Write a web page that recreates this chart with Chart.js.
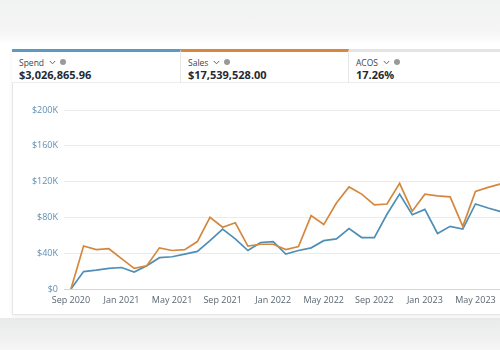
<!DOCTYPE html>
<html>
<head>
<meta charset="utf-8">
<script src="https://cdn.jsdelivr.net/npm/chart.js@4.4.1/dist/chart.umd.min.js"></script>
<style>
  html, body { margin: 0; padding: 0; width: 500px; height: 350px; overflow: hidden; background: #ffffff; font-family: "Open Sans", "Noto Sans", sans-serif; }
  #topband { position: absolute; left: 0; top: 0; width: 500px; height: 44px; background: linear-gradient(#f1f2f2, #f5f5f5 70%, #ffffff); }
  #botband { position: absolute; left: 0; top: 318px; width: 500px; height: 32px; background: linear-gradient(#e9eaea, #f0f0f0 60%, #f6f6f6); }
  #card { position: absolute; left: 12px; top: 49px; width: 620px; height: 266px; border: 1px solid #e6e6e6; border-top: none; background: #fff; box-sizing: border-box; box-shadow: 0 2px 4px rgba(0,0,0,0.06); }
  .tile { position: absolute; top: 49px; height: 34px; box-sizing: border-box; border-bottom: 1px solid #ececec; border-right: 1px solid #e8e8e8; background: #fff; }
  .tile .name { position: absolute; left: 7px; top: 4px; font-size: 8.5px; color: #444; white-space: nowrap; display: flex; align-items: center; height: 12px; }
  .tile .name svg { margin-left: 5px; }
  .tile .name .info { display: inline-block; width: 6px; height: 6px; border-radius: 50%; background: #9a9a9a; margin-left: 4px; }
  .tile .val { position: absolute; left: 7px; top: 15px; font-size: 11px; font-weight: 700; color: #1f2a33; white-space: nowrap; }
  #t1 { left: 12px; width: 169px; border-top: 3px solid #5b9bc2; }
  #t2 { left: 181px; width: 168px; border-top: 3px solid #d8873d; }
  #t3 { left: 349px; width: 200px; border-top: 3px solid #e4e4e4; }
  #wrap { position: absolute; left: 12px; top: 83px; width: 530px; height: 233px; }
</style>
</head>
<body>
<div id="topband"></div>
<div id="botband"></div>
<div id="card"></div>
<div class="tile" id="t1"><div class="name">Spend<svg width="7" height="5" viewBox="0 0 7 5"><path d="M0.8 1 L3.5 3.8 L6.2 1" fill="none" stroke="#666" stroke-width="1"/></svg><span class="info"></span></div><div class="val">$3,026,865.96</div></div>
<div class="tile" id="t2"><div class="name">Sales<svg width="7" height="5" viewBox="0 0 7 5"><path d="M0.8 1 L3.5 3.8 L6.2 1" fill="none" stroke="#666" stroke-width="1"/></svg><span class="info"></span></div><div class="val">$17,539,528.00</div></div>
<div class="tile" id="t3"><div class="name">ACOS<svg width="7" height="5" viewBox="0 0 7 5"><path d="M0.8 1 L3.5 3.8 L6.2 1" fill="none" stroke="#666" stroke-width="1"/></svg><span class="info"></span></div><div class="val">17.26%</div></div>
<div id="wrap"><canvas id="c"></canvas></div>
<script>
const months = ["Sep 2020","Oct 2020","Nov 2020","Dec 2020","Jan 2021","Feb 2021","Mar 2021","Apr 2021",
  "May 2021","Jun 2021","Jul 2021","Aug 2021","Sep 2021","Oct 2021","Nov 2021","Dec 2021",
  "Jan 2022","Feb 2022","Mar 2022","Apr 2022","May 2022","Jun 2022","Jul 2022","Aug 2022",
  "Sep 2022","Oct 2022","Nov 2022","Dec 2022","Jan 2023","Feb 2023","Mar 2023","Apr 2023",
  "May 2023","Jun 2023","Jul 2023","Aug 2023"];
const sales = [0,48000,44000,45000,34000,23000,26000,46000,43000,44000,53000,80000,
  69000,74000,48000,50000,50000,44000,47500,82000,72000,96000,114000,106000,
  94000,95000,118000,87000,106000,104000,103000,70000,109000,113500,117500,121000];
const spend = [0,19500,21000,23000,24000,19000,26000,35000,36000,39000,42000,54000,
  67000,56000,43000,52000,53000,39000,43000,46000,54000,56000,67500,57500,
  57500,83500,106000,83000,89000,62000,70000,67000,95000,90500,86500,84000];
const xTickIdx = [0,4,8,12,16,20,24,28,32];
const yTicks = [0,40000,80000,120000,160000,200000];

const toPts = arr => arr.map((v,i)=>({x:i,y:v}));

new Chart(document.getElementById('c'), {
  type: 'line',
  data: {
    datasets: [
      { label: 'Sales', data: toPts(sales), borderColor: '#d4883f', borderWidth: 1.7, pointRadius: 0, tension: 0, fill: false },
      { label: 'Spend', data: toPts(spend), borderColor: '#4f8fb6', borderWidth: 1.7, pointRadius: 0, tension: 0, fill: false }
    ]
  },
  options: {
    responsive: true, maintainAspectRatio: false, animation: false,
    layout: { padding: { left: 0, right: 16, top: 27, bottom: 4 } },
    plugins: { legend: { display: false }, tooltip: { enabled: false } },
    scales: {
      x: {
        type: 'linear', min: -0.55, max: 36,
        afterBuildTicks: s => { s.ticks = xTickIdx.map(v => ({ value: v })); },
        afterFit: s => { s.height = 23; },
        grid: { display: false, drawTicks: false },
        border: { display: false },
        ticks: { padding: 6, color: '#5b6670', font: { family: 'Open Sans', size: 9 }, maxRotation: 0, autoSkip: false,
          callback: v => months[v] }
      },
      y: {
        min: 0, max: 200000,
        afterBuildTicks: s => { s.ticks = yTicks.map(v => ({ value: v })); },
        afterFit: s => { s.width = 52; },
        grid: { drawTicks: false, color: c => c.tick && c.tick.value === 0 ? '#d6d6d6' : '#ebebeb', lineWidth: 1 },
        border: { display: false },
        ticks: { padding: 6, color: '#5f8fb3', font: { family: 'Open Sans', size: 9 },
          callback: v => v === 0 ? '$0' : '$' + (v/1000) + 'K' }
      }
    }
  }
});
</script>
</body>
</html>
